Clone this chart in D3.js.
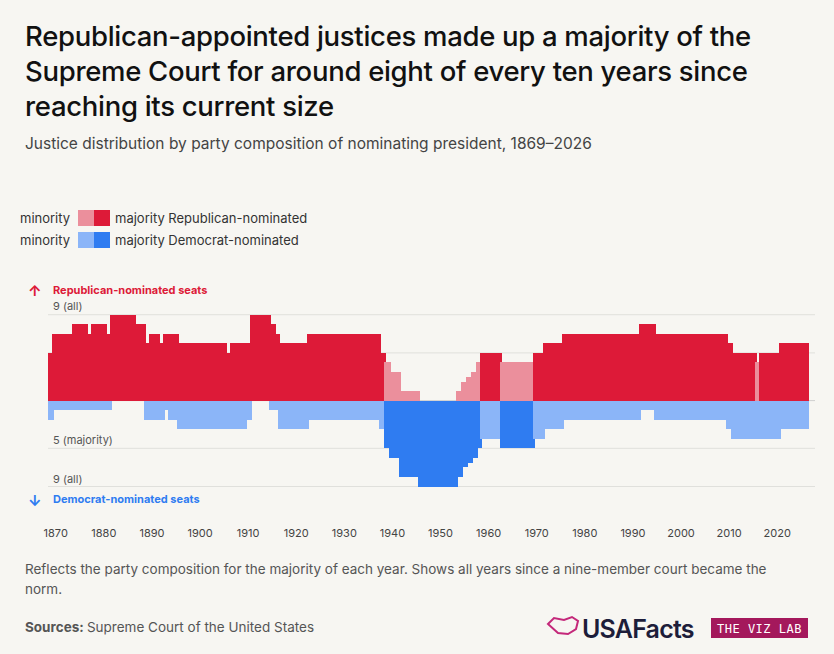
<!DOCTYPE html>
<html><head><meta charset="utf-8">
<script src="https://cdn.jsdelivr.net/npm/d3@7"></script>
<style>
body{margin:0;background:#f7f6f2;}
svg{font-family:Inter,"Noto Sans",sans-serif;}
</style></head>
<body><div id="chart"></div>
<script>
const firstYear = 1869;
// Republican-nominated seats per year, 1869..2026
const rep = [5,
  7,7,7,7,8,8,8,7,8,8,
  8,7,9,9,9,9,9,8,8,6,
  7,7,6,7,7,7,6,6,6,6,
  6,6,6,6,6,6,5,6,6,6,
  6,9,9,9,9,8,7,6,6,6,
  6,6,6,7,7,7,7,7,7,7,
  7,7,7,7,7,7,7,7,5,4,
  3,3,1,1,1,1,0,0,0,0,
  0,0,0,0,1,2,2.5,3,4,5,
  5,5,5,4,4,4,4,4,4,4,
  5,5,6,6,6,6,7,7,7,7,
  7,7,7,7,7,7,7,7,7,7,
  7,7,8,8,8,7,7,7,7,7,
  7,7,7,7,7,7,7,7,7,7,
  6,5,5,5,5,5,4,5,5,5,
  5,6,6,6,6,6,6];
// Democrat-nominated seats per year, 1869..2026
const dem = [2,
  1,1,1,1,1,1,1,1,1,1,
  1,1,0,0,0,0,0,0,0,2,
  2,2,2,1,2,2,3,3,3,3,
  3,3,3,3,3,3,3,3,3,3,
  2,0,0,0,0,1,1,3,3,3,
  3,3,3,2,2,2,2,2,2,2,
  2,2,2,2,2,2,2,2,3,5,
  6,6,8,8,8,8,9,9,9,9,
  9,9,9,9,8,7,6.5,6,5,4,
  4,4,4,5,5,5,5,5,5,5,
  4,4,3,3,3,3,2,2,2,2,
  2,2,2,2,2,2,2,2,2,2,
  2,2,1,1,1,2,2,2,2,2,
  2,2,2,2,2,2,2,2,2,2,
  3,4,4,4,4,4,4,4,4,4,
  4,3,3,3,3,3,3];
const tickYears = [1870,1880,1890,1900,1910,1920,1930,1940,1950,1960,1970,1980,1990,2000,2010,2020];
const gridSeats = [9,5,0,-5,-9];

const colors = {repMaj:"#dd1a38", repMin:"#eb8f9c", demMaj:"#2f7cf1", demMin:"#8bb5f8"};
const rows = rep.map((r,i)=>({year:firstYear+i, rep:r, dem:dem[i]}));

const W=834, H=654;
const svg = d3.select("#chart").append("svg").attr("width",W).attr("height",H);
svg.append("rect").attr("width",W).attr("height",H).attr("fill","#f7f6f2");

// titles
const title = ["Republican-appointed justices made up a majority of the",
  "Supreme Court for around eight of every ten years since","reaching its current size"];
svg.append("g").selectAll("text").data(title).join("text")
  .attr("x",25).attr("y",(d,i)=>46+i*35)
  .attr("font-size",27.5).attr("font-weight",500).attr("fill","#111").attr("letter-spacing",-0.3)
  .text(d=>d);
svg.append("text").attr("x",25).attr("y",149).attr("font-size",15.5).attr("fill","#444")
  .text("Justice distribution by party composition of nominating president, 1869–2026");

// legend
const leg = [["Republican-nominated",colors.repMin,colors.repMaj,218],["Democrat-nominated",colors.demMin,colors.demMaj,240]];
leg.forEach(([lab,c1,c2,y])=>{
  svg.append("text").attr("x",20).attr("y",y+5).attr("font-size",13).attr("fill","#333").text("minority");
  svg.append("rect").attr("x",78).attr("y",y-8).attr("width",16).attr("height",16).attr("fill",c1);
  svg.append("rect").attr("x",94).attr("y",y-8).attr("width",16).attr("height",16).attr("fill",c2);
  svg.append("text").attr("x",115).attr("y",y+5).attr("font-size",13).attr("fill","#333").text("majority "+lab);
});

const x = d3.scaleLinear().domain([firstYear, firstYear+rows.length]).range([48,808]);
const y = d3.scaleLinear().domain([-9,9]).range([486.5,314.7]);

svg.append("g").selectAll("line").data(gridSeats).join("line")
  .attr("x1",48).attr("x2",815).attr("y1",d=>y(d)).attr("y2",d=>y(d))
  .attr("stroke",d=>d===0?"#cfcfcf":"#e0e0dc").attr("stroke-width",1);

// one rect per year, drawn crisp and slightly overlapping to avoid seams
const bw = d=>Math.ceil(x(d.year+1))-Math.floor(x(d.year))+1;
svg.append("g").attr("shape-rendering","crispEdges").selectAll("rect").data(rows).join("rect")
  .attr("x",d=>Math.floor(x(d.year))).attr("width",bw)
  .attr("y",d=>y(d.rep)).attr("height",d=>y(0)-y(d.rep))
  .attr("fill",d=>d.rep>=5?colors.repMaj:colors.repMin);
svg.append("g").attr("shape-rendering","crispEdges").selectAll("rect").data(rows).join("rect")
  .attr("x",d=>Math.floor(x(d.year))).attr("width",bw)
  .attr("y",y(0)).attr("height",d=>y(-d.dem)-y(0))
  .attr("fill",d=>d.dem>=5?colors.demMaj:colors.demMin);

// axis labels
const gl = svg.append("g").attr("font-size",11).attr("fill","#555");
gl.append("text").attr("x",53).attr("y",y(9)-5).text("9 (all)");
gl.append("text").attr("x",53).attr("y",y(-5)-4).text("5 (majority)");
gl.append("text").attr("x",53).attr("y",y(-9)-4).text("9 (all)");
svg.append("text").attr("x",28).attr("y",296).attr("font-size",15).attr("font-weight",700).attr("fill","#dd1a38").text("↑");
svg.append("text").attr("x",53).attr("y",294).attr("font-size",11).attr("font-weight",700).attr("fill","#dd1a38").text("Republican-nominated seats");
svg.append("text").attr("x",28).attr("y",506).attr("font-size",15).attr("font-weight",700).attr("fill","#2f7cf1").text("↓");
svg.append("text").attr("x",53).attr("y",503).attr("font-size",11).attr("font-weight",700).attr("fill","#2f7cf1").text("Democrat-nominated seats");

const xAxis = d3.axisBottom(x).tickValues(tickYears.map(t=>t+0.5)).tickFormat(d=>Math.floor(d)).tickSize(0);
const ax = svg.append("g").attr("transform","translate(0,526)").call(xAxis);
ax.select(".domain").remove();
ax.selectAll("text").attr("font-size",11).attr("fill","#444").attr("font-family","Inter,'Noto Sans',sans-serif");

// footer
svg.append("text").attr("x",25).attr("y",574).attr("font-size",13.5).attr("fill","#555")
  .text("Reflects the party composition for the majority of each year. Shows all years since a nine-member court became the");
svg.append("text").attr("x",25).attr("y",594).attr("font-size",13.5).attr("fill","#555").text("norm.");
const src = svg.append("text").attr("x",25).attr("y",632).attr("font-size",13.5).attr("fill","#555");
src.append("tspan").attr("font-weight",700).text("Sources: ");
src.append("tspan").text("Supreme Court of the United States");

// logo
svg.append("path").attr("d","M548,624 l6,-6 l10,2 l8,-3 l6,4 l-2,8 l-8,5 l-10,-1 z")
  .attr("fill","none").attr("stroke","#c4287a").attr("stroke-width",2);
svg.append("text").attr("x",582).attr("y",638).attr("font-size",25).attr("font-weight",600)
  .attr("fill","#1d1d3a").attr("letter-spacing",-0.8).text("USAFacts");
svg.append("rect").attr("x",711).attr("y",618).attr("width",97).attr("height",20).attr("fill","#a4185c");
svg.append("text").attr("x",759.5).attr("y",633).attr("text-anchor","middle").attr("font-size",12)
  .attr("font-family","'DejaVu Sans Mono',monospace").attr("fill","#fff").attr("letter-spacing",0.5).text("THE VIZ LAB");
</script></body></html>
